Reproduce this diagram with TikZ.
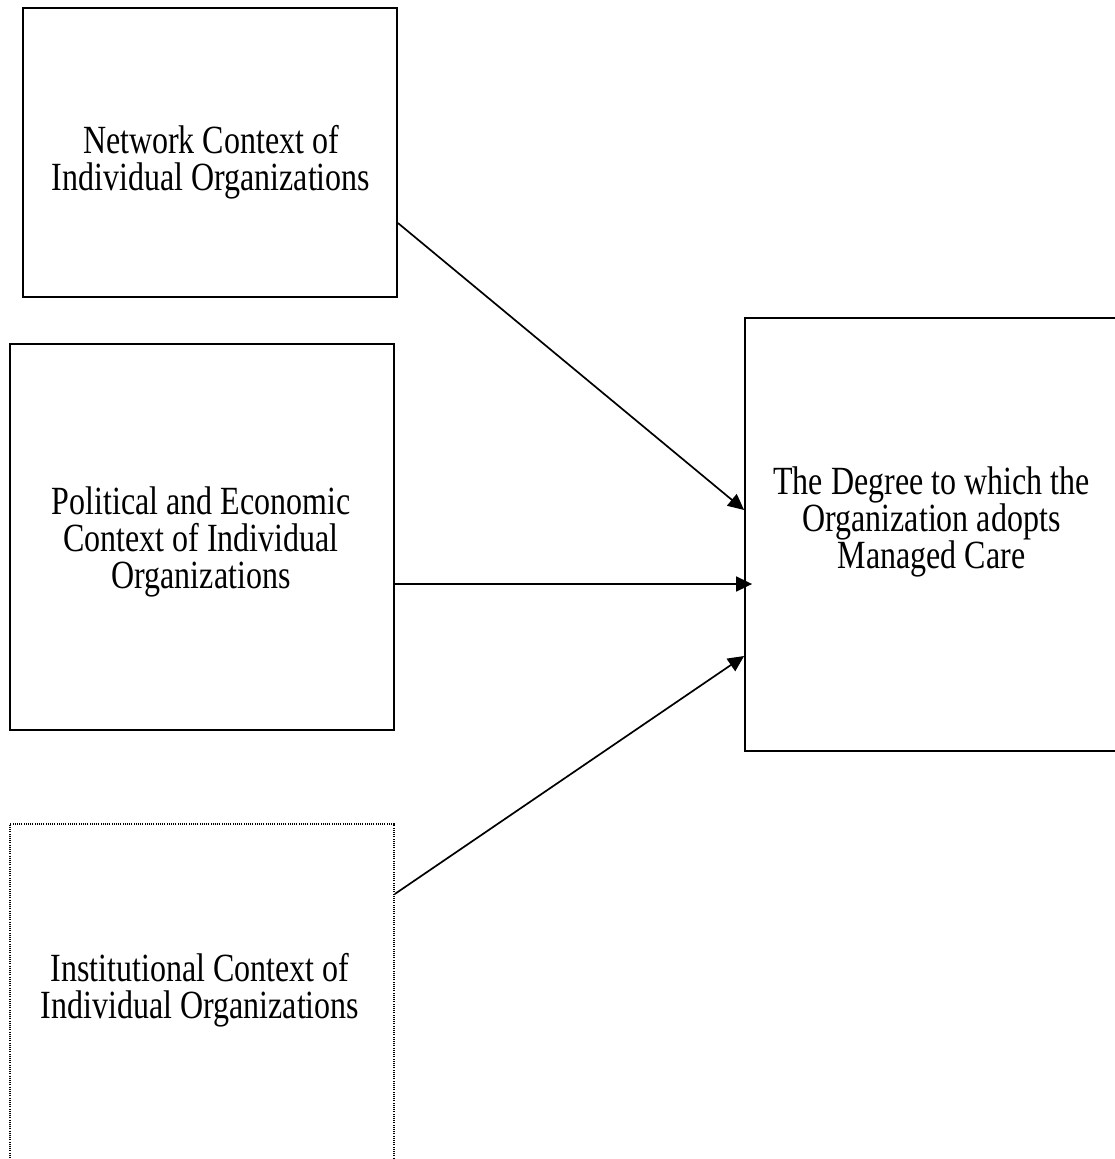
\documentclass[tikz,border=0pt]{standalone}
\usepackage{fontspec}
\setmainfont{Liberation Serif}
\usetikzlibrary{arrows.meta,positioning,calc}
\begin{document}
\begin{tikzpicture}[x=1pt,y=1pt,
  box/.style={draw,line width=1.8pt,rectangle,inner sep=0pt},
  dotbox/.style={draw,line width=1.6pt,rectangle,inner sep=0pt,dash pattern=on 1pt off 1.2pt},
  lbl/.style={align=center,font=\fontsize{32}{29.6}\selectfont,inner sep=0pt,yscale=1.25,transform shape},
  conn/.style={line width=1.7pt,-{Triangle[length=16pt,width=15pt]}}]
\useasboundingbox (0,0) rectangle (1114,-1159);
% boxes
\node[box,minimum width=374pt,minimum height=289pt] (N) at (210,-152.5) {};
\node[lbl] (Nt) at (211,-162.2) {Network Context of\\Individual Organizations};
\node[box,minimum width=384pt,minimum height=386pt] (P) at (202,-537) {};
\node[lbl] (Pt) at (201,-542) {Political and Economic\\Context of Individual\\Organizations};
\node[dotbox,minimum width=384pt,minimum height=351pt] (I) at (202,-999.5) {};
\node[lbl] (It) at (200,-990.7) {Institutional Context of\\Individual Organizations};
\node[box,minimum width=376pt,minimum height=433pt] (R) at (933,-534.5) {};
\node[lbl] (Rt) at (931.5,-522) {The Degree to which the\\Organization adopts\\Managed Care};
% connectors
\draw[conn] ([yshift=-70.5pt]N.east) -- ([yshift=24.5pt]R.west);
\draw[conn] ([yshift=-47pt]P.east) -- ([xshift=8pt,yshift=-49.5pt]R.west);
\draw[conn] ([yshift=105.5pt]I.east) -- ([yshift=-121.5pt]R.west);
\end{tikzpicture}
\end{document}
